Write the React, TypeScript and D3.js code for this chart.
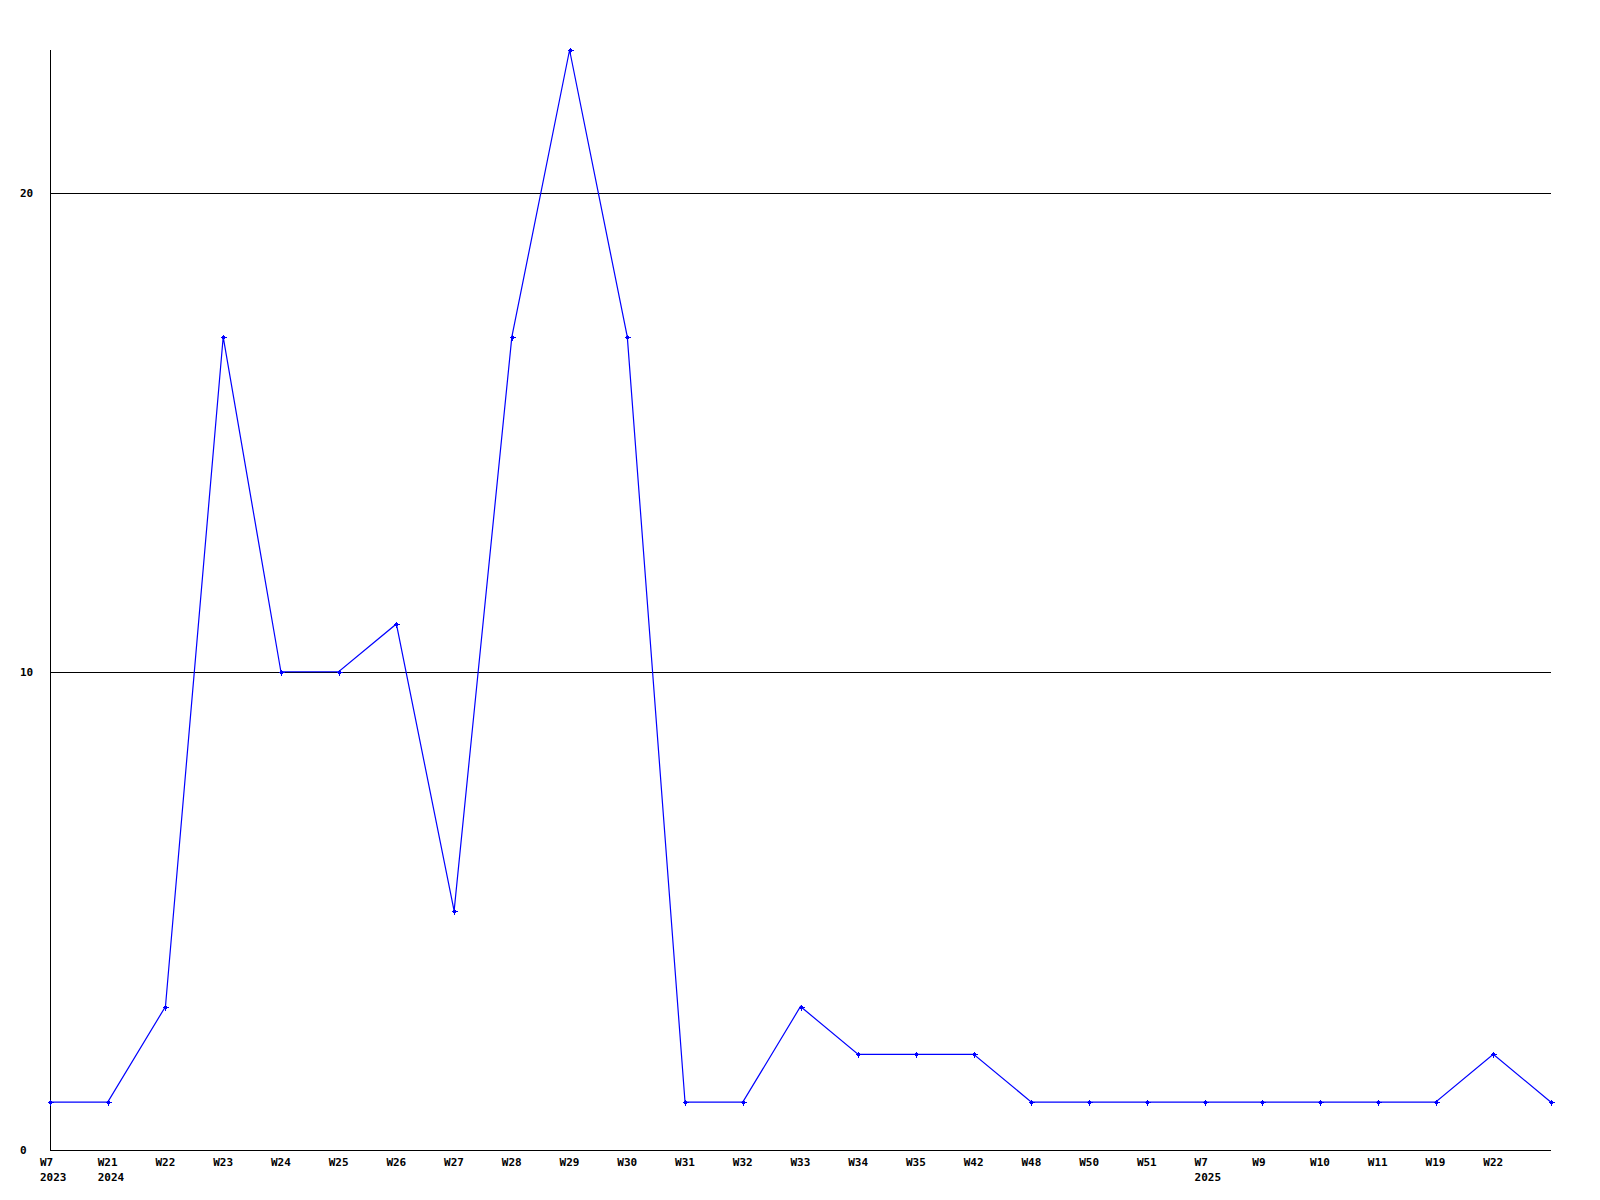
import React from "react";
import * as d3 from "d3";

const weekLabels = ["W7","W21","W22","W23","W24","W25","W26","W27","W28","W29","W30","W31","W32","W33","W34","W35","W42","W48","W50","W51","W7","W9","W10","W11","W19","W22",""];
const yearLabels = ["2023","2024","","","","","","","","","","","","","","","","","","","2025","","","","","",""];
const values = [1,1,3,17,10,10,11,5,17,23,17,1,1,3,2,2,2,1,1,1,1,1,1,1,1,2,1];
const yTicks = [0,10,20];

const W = 1600, H = 1200;
const left = 50, right = 1551, top = 50, bottom = 1150;

export default function App() {
  const x = d3.scaleLinear().domain([0, values.length - 1]).range([left, right]);
  const y = d3.scaleLinear().domain([0, 23]).range([bottom, top]);
  const line = d3.line<number>().x((_, i) => x(i)).y((d) => y(d));
  const font = "'DejaVu Sans Mono', monospace";
  return (
    <svg width={W} height={H} style={{ position: "absolute", left: 0, top: 0, background: "#fff" }}>
      <rect width={W} height={H} fill="#fff" />
      {yTicks.filter((t) => t > 0).map((t) => (
        <line key={t} x1={left} x2={right} y1={Math.round(y(t)) + 0.5} y2={Math.round(y(t)) + 0.5} stroke="#000" strokeWidth={1} shapeRendering="crispEdges" />
      ))}
      <line x1={left + 0.5} x2={left + 0.5} y1={top} y2={bottom + 1} stroke="#000" shapeRendering="crispEdges" />
      <line x1={left} x2={right} y1={bottom + 0.5} y2={bottom + 0.5} stroke="#000" shapeRendering="crispEdges" />
      {yTicks.map((t) => (
        <text key={t} x={20} y={Math.round(y(t))} dy="0.35em" fontFamily={font} fontWeight="bold" fontSize={11} fill="#000">{t}</text>
      ))}
      <path d={line(values) || ""} fill="none" stroke="#0000ff" strokeWidth={1.2} />
      {values.map((v, i) => {
        const cx = Math.round(x(i)) + 0.5, cy = Math.round(y(v)) + 0.5;
        return (
          <path key={i} d={`M${cx - 3},${cy}H${cx + 3}M${cx},${cy - 3}V${cy + 3}M${cx - 1},${cy - 1}h2v2h-2z`} stroke="#0000ff" strokeWidth={1} fill="#0000ff" shapeRendering="crispEdges" />
        );
      })}
      {weekLabels.map((l, i) => (
        <text key={"w" + i} x={x(i) - 10} y={1162} dy="0.35em" fontFamily={font} fontWeight="bold" fontSize={11} fill="#000">{l}</text>
      ))}
      {yearLabels.map((l, i) => (
        <text key={"y" + i} x={x(i) - 10} y={1177} dy="0.35em" fontFamily={font} fontWeight="bold" fontSize={11} fill="#000">{l}</text>
      ))}
    </svg>
  );
}
